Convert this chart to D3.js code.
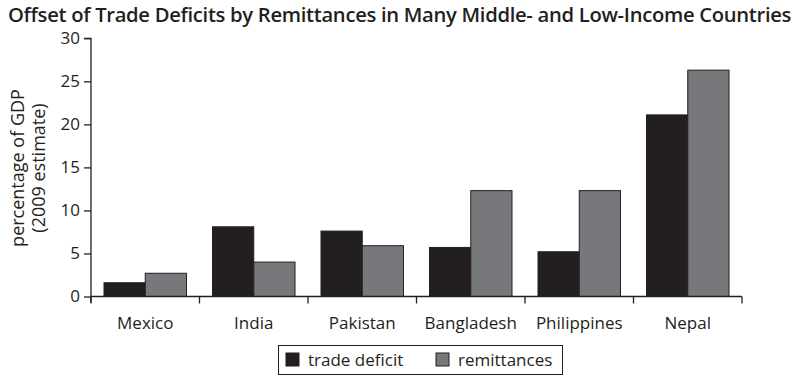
<!DOCTYPE html>
<html><head><meta charset="utf-8">
<script src="https://cdn.jsdelivr.net/npm/d3@7"></script>
<style>body{margin:0;background:#fff}svg{display:block}text{font-family:"Open Sans","Noto Sans",sans-serif;fill:#231f20}</style>
</head><body><svg id="c" width="800" height="382"></svg>
<script>
const categories = ["Mexico","India","Pakistan","Bangladesh","Philippines","Nepal"];
const tradeDeficit = [1.6, 8.1, 7.6, 5.7, 5.2, 21.1];
const remittances = [2.7, 4.0, 5.9, 12.3, 12.3, 26.3];
const seriesNames = ["trade deficit","remittances"];
const seriesColors = ["#231f20","#77787b"];
const yTicks = [0,5,10,15,20,25,30];

const svg = d3.select("#c");
const L = 91, R = 742, T = 38.3, B = 296.5;
const x0 = d3.scaleBand().domain(categories).range([L, R]).padding(0);
const x1 = d3.scaleBand().domain(seriesNames).range([13, x0.bandwidth() - 13]).padding(0);
const y = d3.scaleLinear().domain([0, 30]).range([B, T]);
const color = d3.scaleOrdinal().domain(seriesNames).range(seriesColors);

// title
const title = svg.append("text").attr("x", 8).attr("y", 22).attr("font-size", 19).attr("font-weight", 600)
  .attr("letter-spacing", -0.3)
  .text("Offset of Trade Deficits by Remittances in Many Middle- and Low-Income Countries");
const tw = title.node().getComputedTextLength();
title.attr("font-size", 19 * 782 / tw);

// bars
const data = categories.map((c, i) => ({c, vals: [tradeDeficit[i], remittances[i]]}));
const g = svg.append("g");
g.selectAll("g.grp").data(data).join("g").attr("class","grp")
  .attr("transform", d => `translate(${x0(d.c)},0)`)
  .selectAll("rect").data(d => d.vals.map((v, j) => ({s: seriesNames[j], v})))
  .join("rect")
  .attr("x", d => x1(d.s)).attr("width", x1.bandwidth())
  .attr("y", d => y(d.v)).attr("height", d => y(0) - y(d.v))
  .attr("fill", d => color(d.s)).attr("stroke", "#231f20").attr("stroke-width", 1);

// y axis
const ya = svg.append("g").attr("transform", `translate(${L},0)`)
  .call(d3.axisLeft(y).tickValues(yTicks).tickSize(7).tickPadding(4));
ya.select(".domain").attr("stroke", "#231f20").attr("stroke-width", 1.3).attr("d", `M-7,${y(30)}H0V${B + 6}`);
ya.selectAll(".tick line").attr("stroke", "#231f20").attr("stroke-width", 1.3);
ya.selectAll(".tick text").attr("font-size", 17).attr("font-family", "'Open Sans','Noto Sans',sans-serif").attr("fill", "#231f20");

// x axis
const xa = svg.append("g").attr("transform", `translate(0,${B})`);
xa.append("line").attr("x1", L).attr("x2", R).attr("stroke", "#231f20").attr("stroke-width", 1.3);
const bounds = categories.map(c => x0(c)).concat([R]);
xa.selectAll("line.tk").data(bounds).join("line").attr("class","tk")
  .attr("x1", d => d).attr("x2", d => d).attr("y1", 0).attr("y2", 7)
  .attr("stroke", "#231f20").attr("stroke-width", 1.3);
xa.selectAll("text").data(categories).join("text")
  .attr("x", d => x0(d) + x0.bandwidth() / 2).attr("y", 32)
  .attr("text-anchor", "middle").attr("font-size", 17).text(d => d);

// y label
const yl = svg.append("text").attr("transform", "translate(0,168) rotate(-90)").attr("text-anchor", "middle").attr("font-size", 18).attr("font-weight", 500);
yl.append("tspan").attr("x", 0).attr("y", 24).text("percentage of GDP");
yl.append("tspan").attr("x", 0).attr("y", 45).text("(2009 estimate)");

// legend
const lg = svg.append("g");
lg.append("rect").attr("x", 278.5).attr("y", 345.5).attr("width", 284).attr("height", 29).attr("fill", "none").attr("stroke", "#231f20").attr("stroke-width", 1);
const litems = [{s: seriesNames[0], x: 286}, {s: seriesNames[1], x: 436}];
litems.forEach(it => {
  lg.append("rect").attr("x", it.x).attr("y", 353).attr("width", 13).attr("height", 13).attr("fill", color(it.s)).attr("stroke", "#231f20");
  lg.append("text").attr("x", it.x + 22).attr("y", 366).attr("font-size", 17).text(it.s);
});
</script></body></html>
